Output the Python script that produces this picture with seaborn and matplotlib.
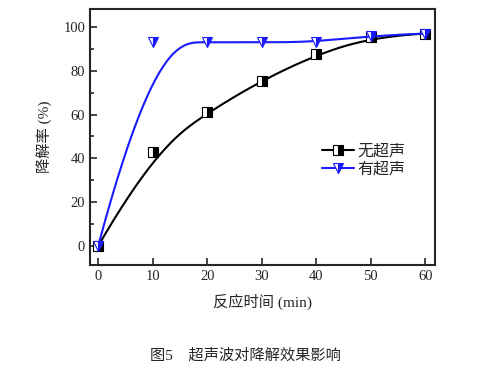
import numpy as np
import pandas as pd
import seaborn as sns
import matplotlib.pyplot as plt
from matplotlib.ticker import MultipleLocator
from matplotlib.lines import Line2D

# data
time_min = [0, 10, 20, 30, 40, 50, 60]
no_ultra = [0, 43, 61, 75.5, 87.5, 95.5, 97]
with_ultra = [0, 93, 93, 93, 93, 96, 97]
labels = ['无超声', '有超声']
colors = ['black', '#1a1aff']
markers = ['s', 'v']

sns.set_style('ticks')
plt.rcParams['font.family'] = ['Liberation Serif', 'Noto Sans CJK SC', 'DejaVu Sans']
mixed = ['Liberation Serif', 'Noto Sans CJK SC']


def bspline(xs, ys, n=300):
    # clamped uniform cubic B-spline with the data points as control points (Origin style)
    P = np.column_stack([xs, ys]).astype(float)
    k = 3
    m = len(P)
    knots = np.concatenate([np.zeros(k), np.linspace(0, 1, m - k + 1), np.ones(k)])
    t = np.linspace(0, 1 - 1e-9, n)
    out = []
    for u in t:
        i = np.searchsorted(knots, u, side='right') - 1
        d = [P[j + i - k].copy() for j in range(k + 1)]
        for r in range(1, k + 1):
            for j in range(k, r - 1, -1):
                a = (u - knots[j + i - k]) / (knots[j + 1 + i - r] - knots[j + i - k])
                d[j] = (1 - a) * d[j - 1] + a * d[j]
        out.append(d[k])
    out.append(P[-1])
    out = np.array(out)
    return out[:, 0], out[:, 1]


df = pd.DataFrame({'time': time_min * 2,
                   'rate': no_ultra + with_ultra,
                   'group': [labels[0]] * 7 + [labels[1]] * 7})

fig = plt.figure(figsize=(4.9, 3.69), dpi=100)
ax = fig.add_axes([0.1837, 0.2818, 0.704, 0.6938])

for lab, col, mk in zip(labels, colors, markers):
    sub = df[df['group'] == lab]
    cx, cy = bspline(sub['time'].values, sub['rate'].values)
    sns.lineplot(x=cx, y=cy, ax=ax, color=col, lw=1.5, sort=False, legend=False)
    ax.plot(sub['time'], sub['rate'], ls='none', marker=mk, ms=7, color=col,
            mec=col, mfc=col, fillstyle='right', markerfacecoloralt='white', mew=0.8)

handles = [Line2D([], [], color=c, marker=m, ms=7, lw=1.5, fillstyle='right',
                  markerfacecoloralt='white', mec=c, mew=0.8) for c, m in zip(colors, markers)]
ax.legend(handles, labels, loc='upper left', bbox_to_anchor=(0.655, 0.50), frameon=False,
          prop={'family': mixed, 'size': 11.5}, handlelength=2.0, handletextpad=0.2,
          labelspacing=0.15, borderaxespad=0)

ax.set_xlim(-1.5, 61.8)
ax.set_ylim(-8.7, 108.2)
ax.xaxis.set_major_locator(MultipleLocator(10))
ax.yaxis.set_major_locator(MultipleLocator(20))
ax.yaxis.set_minor_locator(MultipleLocator(10))
ax.tick_params(which='both', direction='in', top=False, right=False, labelsize=10.5, width=1.2)
ax.tick_params(which='major', length=5)
ax.tick_params(which='minor', length=3)
for s in ax.spines.values():
    s.set_linewidth(1.5)

ax.set_xlabel('反应时间 (min)', fontsize=11, family=mixed, labelpad=8)
ax.set_ylabel('降解率 (%)', fontsize=11, family=mixed, labelpad=8)

fig.text(0.5, 0.025, '图5    超声波对降解效果影响', ha='center', fontsize=11, family=mixed)

fig.savefig('out.png', dpi=100)
